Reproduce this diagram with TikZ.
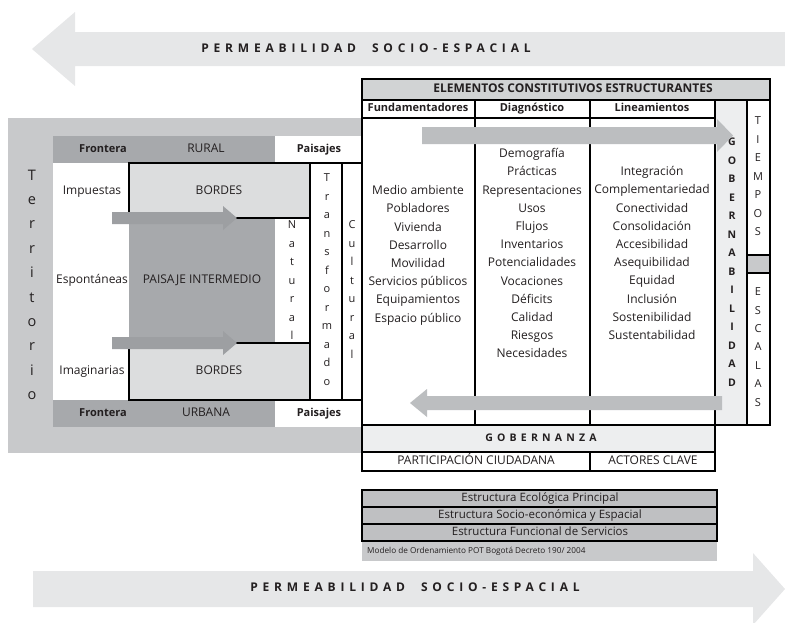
\documentclass[tikz,border=0pt]{standalone}
\usepackage{fontspec}
\setmainfont{Open Sans}
\newfontfamily\spacedfont{Open Sans}[LetterSpace=40]
\definecolor{arrowlight}{HTML}{E6E7E8}
\definecolor{panelgray}{HTML}{C8C9CB}
\definecolor{darkgray2}{HTML}{A7A9AC}
\definecolor{bordergray}{HTML}{DCDDDE}
\definecolor{smallarrow}{HTML}{9D9FA2}
\definecolor{bigarrow}{HTML}{BCBEC0}
\definecolor{headergray}{HTML}{D1D3D4}
\definecolor{palegray}{HTML}{EDEEEF}
\definecolor{boxgray}{HTML}{BFC0C2}
\definecolor{textc}{HTML}{231F20}
\begin{document}
\begin{tikzpicture}[x=1pt,y=-1pt,
  every node/.style={inner sep=0pt, text height=8pt, text depth=2.5pt, text=textc},
  lbl/.style={font=\fontsize{12}{14}\selectfont},
  blbl/.style={font=\fontsize{11}{13}\selectfont\bfseries},
  vlet/.style={font=\fontsize{11}{13}\selectfont},
  bvlet/.style={font=\fontsize{10.5}{13}\selectfont\bfseries},
  thk/.style={line width=2.3pt, draw=black},
  thn/.style={line width=1.3pt, draw=black}]
\useasboundingbox (0,0) rectangle (785,622);

% big arrows
\fill[arrowlight] (32,49) -- (75,12) -- (75,32) -- (785,32) -- (785,66) -- (75,66) -- (75,86) -- cycle;
\node[font=\fontsize{12}{14}\spacedfont\bfseries] (toptext) at (366,50) {PERMEABILIDAD\hspace{16pt}SOCIO-ESPACIAL};
\fill[arrowlight] (33,571) -- (753,571) -- (753,553) -- (785,589) -- (753,625) -- (753,607) -- (33,607) -- cycle;
\node[font=\fontsize{12}{14}\spacedfont\bfseries] (bottext) at (415,589) {PERMEABILIDAD\hspace{16pt}SOCIO-ESPACIAL};

% left panel
\fill[panelgray] (8,118) rectangle (365,453);
\fill[darkgray2] (53,136) rectangle (275,163);
\fill[white] (275,136) rectangle (362,163);
\fill[white] (53,163) rectangle (362,400);
\fill[darkgray2] (53,400) rectangle (275,427);
\fill[white] (275,400) rectangle (362,427);
\fill[darkgray2] (129,218) rectangle (275,343);
\fill[bordergray] (129,163) rectangle (310,218);
\fill[bordergray] (129,343) rectangle (310,400);

\node[blbl] (fr1) at (103,149.5) {Frontera};
\node[lbl] (rural) at (206,149.5) {RURAL};
\node[blbl] (pa1) at (319,149.5) {Paisajes};
\node[blbl] (fr2) at (103,413.5) {Frontera};
\node[lbl] (urbana) at (206,413.5) {URBANA};
\node[blbl] (pa2) at (319,413.5) {Paisajes};

\foreach \c [count=\i from 0] in {T,e,r,r,i,t,o,r,i,o}
  \node[font=\fontsize{14.5}{16}\selectfont, anchor=base] (ter\i) at (32,{180+24.4*\i}) {\c};

\node[lbl] (imp) at (92,192) {Impuestas};
\node[lbl] (esp) at (92,281) {Espontáneas};
\node[lbl] (ima) at (92,372) {Imaginarias};
\node[lbl] (pint) at (202,281) {PAISAJE INTERMEDIO};
\node[lbl] (bor1) at (219,192) {BORDES};
\node[lbl] (bor2) at (219,372) {BORDES};

\foreach \c [count=\i from 0] in {N,a,t,u,r,a,l}
  \node[vlet] (nat\i) at (292,{226+18.5*\i}) {\c};
\foreach \c [count=\i from 0] in {T,r,a,n,s,f,o,r,m,a,d,o}
  \node[vlet] (tra\i) at (327,{179+18.5*\i}) {\c};
\foreach \c [count=\i from 0] in {C,u,l,t,u,r,a,l}
  \node[vlet] (cul\i) at (352,{226+18.5*\i}) {\c};

\draw[thk] (129,163) rectangle (310,218);
\draw[thk] (129,343) rectangle (310,400);
\draw[thk] (310,163) -- (310,400);
\draw[thk] (310,163) -- (362,163);
\draw[thk] (310,400) -- (362,400);
\draw[thn] (342,163) -- (342,400);

\fill[smallarrow] (112,212) -- (223,212) -- (223,206) -- (237,218) -- (223,230) -- (223,224) -- (112,224) -- cycle;
\fill[smallarrow] (112,337) -- (223,337) -- (223,331) -- (237,343) -- (223,355) -- (223,349) -- (112,349) -- cycle;

% right box
\fill[white] (362,79) rectangle (770,425);
\fill[white] (362,425) rectangle (715,471);
\fill[headergray] (362,79) rectangle (770,100);
\fill[palegray] (715,100) rectangle (747,425);
\fill[panelgray] (747,255) rectangle (769,273);
\fill[palegray] (362,425) rectangle (715,452);

\node[font=\fontsize{12}{14}\selectfont\bfseries] (elem) at (573,89.5) {ELEMENTOS CONSTITUTIVOS ESTRUCTURANTES};
\node[blbl] (hfund) at (418,109) {Fundamentadores};
\node[blbl] (hdiag) at (532,109) {Diagnóstico};
\node[blbl] (hlin) at (652,109) {Lineamientos};

\foreach \t [count=\i from 0] in {Medio ambiente,Pobladores,Vivienda,Desarrollo,Movilidad,Servicios públicos,Equipamientos,Espacio público}
  \node[lbl] (fund\i) at (418,{192+18.2*\i}) {\t};
\foreach \t [count=\i from 0] in {Demografía,Prácticas,Representaciones,Usos,Flujos,Inventarios,Potencialidades,Vocaciones,Déficits,Calidad,Riesgos,Necesidades}
  \node[lbl] (diag\i) at (532,{155+18.2*\i}) {\t};
\foreach \t [count=\i from 0] in {Integración,Complementariedad,Conectividad,Consolidación,Accesibilidad,Asequibilidad,Equidad,Inclusión,Sostenibilidad,Sustentabilidad}
  \node[lbl] (lin\i) at (652,{173+18.2*\i}) {\t};

\foreach \c [count=\i from 0] in {G,O,B,E,R,N,A,B,I,L,I,D,A,D}
  \node[bvlet] (gob\i) at (732,{143+18.5*\i}) {\c};
\foreach \c [count=\i from 0] in {T,I,E,M,P,O,S}
  \node[vlet] (tie\i) at (758,{122+18.5*\i}) {\c};
\foreach \c [count=\i from 0] in {E,S,C,A,L,A,S}
  \node[vlet] (esc\i) at (758,{293+18.4*\i}) {\c};

\node[font=\fontsize{10.5}{13}\spacedfont\bfseries] (gobz) at (541,439) {GOBERNANZA};
\node[lbl] (part) at (476,461.5) {PARTICIPACIÓN CIUDADANA};
\node[lbl] (act) at (653,461.5) {ACTORES CLAVE};

\draw[thk] (362,79) rectangle (770,425);
\draw[thk] (362,425) rectangle (715,471);
\draw[thk] (362,100) -- (770,100);
\draw[thk] (362,118) -- (715,118);
\draw[thk] (475,100) -- (475,425);
\draw[thk] (590,100) -- (590,425);
\draw[thk] (715,100) -- (715,425);
\draw[thn] (747,100) -- (747,425);
\draw[thn] (747,255) -- (770,255);
\draw[thn] (747,273) -- (770,273);
\draw[thn] (362,452) -- (715,452);
\draw[thn] (590,452) -- (590,471);

\fill[bigarrow] (422,127) -- (717,127) -- (717,119) -- (733,135.5) -- (717,152) -- (717,144) -- (422,144) -- cycle;
\fill[bigarrow] (722,396) -- (427,396) -- (427,389) -- (410,403) -- (427,417) -- (427,410) -- (722,410) -- cycle;

% bottom boxes
\fill[panelgray] (362,541) rectangle (717,561);
\node[font=\fontsize{8.2}{10}\selectfont, anchor=west] (modelo) at (367,551) {Modelo de Ordenamiento POT Bogotá Decreto 190/ 2004};
\draw[thk, fill=boxgray] (362,490) rectangle (717,507);
\draw[thk, fill=boxgray] (362,507) rectangle (717,524);
\draw[thk, fill=boxgray] (362,524) rectangle (717,541);
\node[font=\fontsize{11.5}{13}\selectfont] (eep) at (540,498.5) {Estructura Ecológica Principal};
\node[font=\fontsize{11.5}{13}\selectfont] (ese) at (540,515.5) {Estructura Socio-económica y Espacial};
\node[font=\fontsize{11.5}{13}\selectfont] (efs) at (540,532.5) {Estructura Funcional de Servicios};
\end{tikzpicture}
\end{document}
